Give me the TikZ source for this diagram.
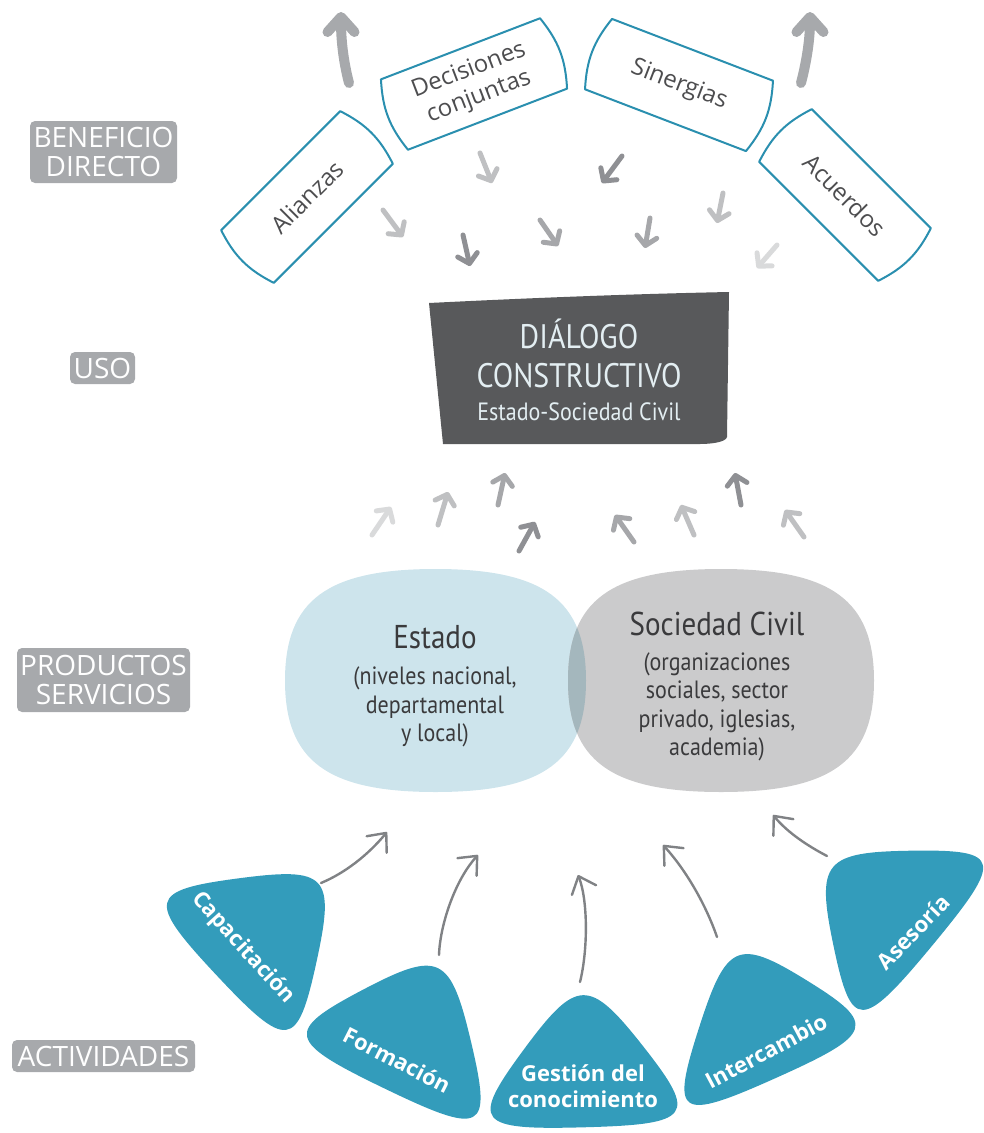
\documentclass[tikz,border=0pt]{standalone}
\usepackage{fontspec}
\setmainfont{Open Sans}
\newfontfamily\dinfont[FakeStretch=0.88]{PT Sans}
\usetikzlibrary{arrows.meta,calc}

\definecolor{boxline}{HTML}{2A8FAF}
\definecolor{boxtext}{HTML}{4D4D4F}
\definecolor{levelgray}{HTML}{A7A9AC}
\definecolor{dialgray}{HTML}{58595B}
\definecolor{dialtext}{HTML}{E3EEF2}
\definecolor{estblue}{HTML}{CDE4EC}
\definecolor{civgray}{HTML}{CBCBCC}
\definecolor{bothgray}{HTML}{A4B7BD}
\definecolor{prodtext}{HTML}{3A3A3C}
\definecolor{actblue}{HTML}{339CBB}
\definecolor{curvegray}{HTML}{808285}
\definecolor{arrA}{HTML}{D9DADB}
\definecolor{arrB}{HTML}{BFC0C2}
\definecolor{arrC}{HTML}{A6A7AA}
\definecolor{arrD}{HTML}{8F9094}

% squircle: centre x, centre y, half width, half height
\newcommand\squircle[4]{(#1,#2-#4) .. controls (#1+0.72*#3,#2-#4) and (#1+#3,#2-0.72*#4) .. (#1+#3,#2)
  .. controls (#1+#3,#2+0.72*#4) and (#1+0.72*#3,#2+#4) .. (#1,#2+#4)
  .. controls (#1-0.72*#3,#2+#4) and (#1-#3,#2+0.72*#4) .. (#1-#3,#2)
  .. controls (#1-#3,#2-0.72*#4) and (#1-0.72*#3,#2-#4) .. (#1,#2-#4) -- cycle}

% rounded triangle: name, three corners
\newcommand\actblob[4]{%
  \coordinate (#1g) at ($0.3333*(#2)+0.3333*(#3)+0.3333*(#4)$);
  \coordinate (#1a) at ($(#1g)!1.32!(#2)$);
  \coordinate (#1b) at ($(#1g)!1.32!(#3)$);
  \coordinate (#1c) at ($(#1g)!1.32!(#4)$);
  \fill[actblue] ($(#1a)!.5!(#1b)$)
    .. controls ($(#1a)!.95!(#1b)$) and ($(#1c)!.95!(#1b)$) .. ($(#1b)!.5!(#1c)$)
    .. controls ($(#1b)!.95!(#1c)$) and ($(#1a)!.95!(#1c)$) .. ($(#1c)!.5!(#1a)$)
    .. controls ($(#1c)!.95!(#1a)$) and ($(#1b)!.95!(#1a)$) .. ($(#1a)!.5!(#1b)$) -- cycle;
}

\begin{document}
\begin{tikzpicture}[x=1pt,y=-1pt,
    levelbox/.style={fill=levelgray,text=white,rounded corners=5pt,inner sep=0pt,align=center,font=\fontsize{28}{29}\selectfont},
    benefit/.style={rotate=#1,minimum width=168pt,minimum height=74pt,inner sep=0pt,align=center,text=boxtext,font=\fontsize{24}{28}\selectfont},
    acttext/.style={rotate=#1,text=white,inner sep=0pt,align=center,font=\fontsize{22}{26}\selectfont\bfseries},
    dart/.style={#1,line width=5pt,line cap=round,-{Straight Barb[round,length=9pt,width=20pt]}},
    bigarrow/.style={levelgray,line width=10pt,line cap=round,-{Straight Barb[round,length=15pt,width=27pt]}},
    curvearrow/.style={curvegray,line width=2.4pt,line cap=round,-{Straight Barb[round,length=15pt,width=26pt]}}]
\useasboundingbox (0,0) rectangle (984,1133);

%LEVELS
\node[levelbox,minimum width=147pt,minimum height=62pt] (benef) at (103.5,152) {BENEFICIO\\DIRECTO};
\node[levelbox,minimum width=65pt,minimum height=32pt] (uso) at (102.5,368) {USO};
\node[levelbox,minimum width=173pt,minimum height=64pt] (prod) at (103.5,680) {PRODUCTOS\\SERVICIOS};
\node[levelbox,minimum width=183pt,minimum height=32pt] (activ) at (103.5,1056) {ACTIVIDADES};

%BENEFICIO DIRECTO
\node[benefit=45] (ali) at (307,197) {Alianzas};
\node[benefit=21,minimum width=170pt,minimum height=75pt] (dec) at (474,84) {Decisiones\\conjuntas};
\node[benefit=-21,minimum width=172pt,minimum height=75pt] (sin) at (679,85) {Sinergias};
\node[benefit=-45] (acu) at (845,195) {Acuerdos};
\foreach \b in {ali,dec,sin,acu}
  \draw[boxline,line width=2pt,line join=round] (\b.north west) -- (\b.north east)
    to[bend left=18] (\b.south east) -- (\b.south west) to[bend left=18] (\b.north west) -- cycle;

\draw[bigarrow] (349,83) .. controls (343,60) and (341,38) .. (341,12);
\draw[bigarrow] (801,83) .. controls (807,60) and (810,38) .. (810,12);

\foreach \c/\ax/\ay/\bx/\by in {arrB/480/153/492/183, arrB/383/210/403/237, arrD/463/235/470/266,
    arrD/622/156/602/183, arrC/540/220/558/246, arrC/650/218/645/248, arrB/723/193/717/223, arrA/777/245/757/268}
  \draw[dart=\c] (\ax,\ay) -- (\bx,\by);

%USO
\fill[dialgray] (429,303) .. controls (530,298) and (630,294) .. (729,292) -- (727,437)
  .. controls (726,442) and (712,444) .. (700,444) -- (443,444) -- cycle;
\node[text=dialtext,align=center,font=\dinfont\fontsize{34}{39}\selectfont] (dial) at (579,353)
  {DIÁLOGO\\CONSTRUCTIVO};
\node[text=dialtext,font=\dinfont\fontsize{25}{28}\selectfont] (dialsub) at (579,412) {Estado-Sociedad Civil};

\foreach \c/\ax/\ay/\bx/\by in {arrA/372/535/391/507, arrB/438/525/448/492, arrC/498/505/505/473, arrD/519/551/535/522,
    arrC/634/542/615/515, arrB/694/535/681/505, arrD/741/505/735/473, arrB/804/537/785/510}
  \draw[dart=\c] (\ax,\ay) -- (\bx,\by);

%PRODUCTOS SERVICIOS
\fill[estblue] \squircle{435.5}{680.5}{150.5}{111.5};
\fill[civgray] \squircle{721}{680.5}{153}{111.5};
\begin{scope}
  \clip \squircle{435.5}{680.5}{150.5}{111.5};
  \fill[bothgray] \squircle{721}{680.5}{153}{111.5};
\end{scope}
\node[text=prodtext,font=\dinfont\fontsize{33}{36}\selectfont] (est) at (435,637) {Estado};
\node[text=prodtext,align=center,font=\dinfont\fontsize{25}{28.5}\selectfont] (estdet) at (435,707)
  {(niveles nacional,\\departamental\\y local)};
\node[text=prodtext,font=\dinfont\fontsize{33}{36}\selectfont] (civ) at (717,624) {Sociedad Civil};
\node[text=prodtext,align=center,font=\dinfont\fontsize{25}{28.5}\selectfont] (civdet) at (717,707)
  {(organizaciones\\sociales, sector\\privado, iglesias,\\academia)};

%ACTIVIDADES
\actblob{cap}{167,903}{318,883}{286,1030}
\actblob{for}{307,1037}{438,968}{473,1117}
\actblob{ges}{493,1117}{583,995}{675,1112}
\actblob{int}{690,1103}{737,956}{855,1029}
\actblob{ase}{833,867}{983,865}{863,1010}
\node[acttext=-48] (capt) at (243,948) {Capacitación};
\node[acttext=-27] (fort) at (397,1060) {Formación};
\node[acttext=0] (gest) at (583,1086) {Gestión del\\conocimiento};
\node[acttext=28] (intt) at (766,1051) {Intercambio};
\node[acttext=46] (aset) at (913,932) {Asesoría};

\coordinate (capfrom) at (321,883); \coordinate (capto) at (387,832);
\coordinate (forfrom) at (439,955); \coordinate (forto) at (478,855);
\coordinate (gesfrom) at (580,982); \coordinate (gesto) at (578,875);
\coordinate (intfrom) at (717,937); \coordinate (intto) at (663,845);
\coordinate (asefrom) at (827,856); \coordinate (aseto) at (773,815);
\draw[curvearrow] (capfrom) .. controls (345,873) and (368,855) .. (capto);
\draw[curvearrow] (forfrom) .. controls (440,925) and (455,880) .. (forto);
\draw[curvearrow] (gesfrom) .. controls (588,950) and (588,900) .. (gesto);
\draw[curvearrow] (intfrom) .. controls (706,905) and (686,870) .. (intto);
\draw[curvearrow] (asefrom) .. controls (808,846) and (788,833) .. (aseto);
\end{tikzpicture}
\end{document}
